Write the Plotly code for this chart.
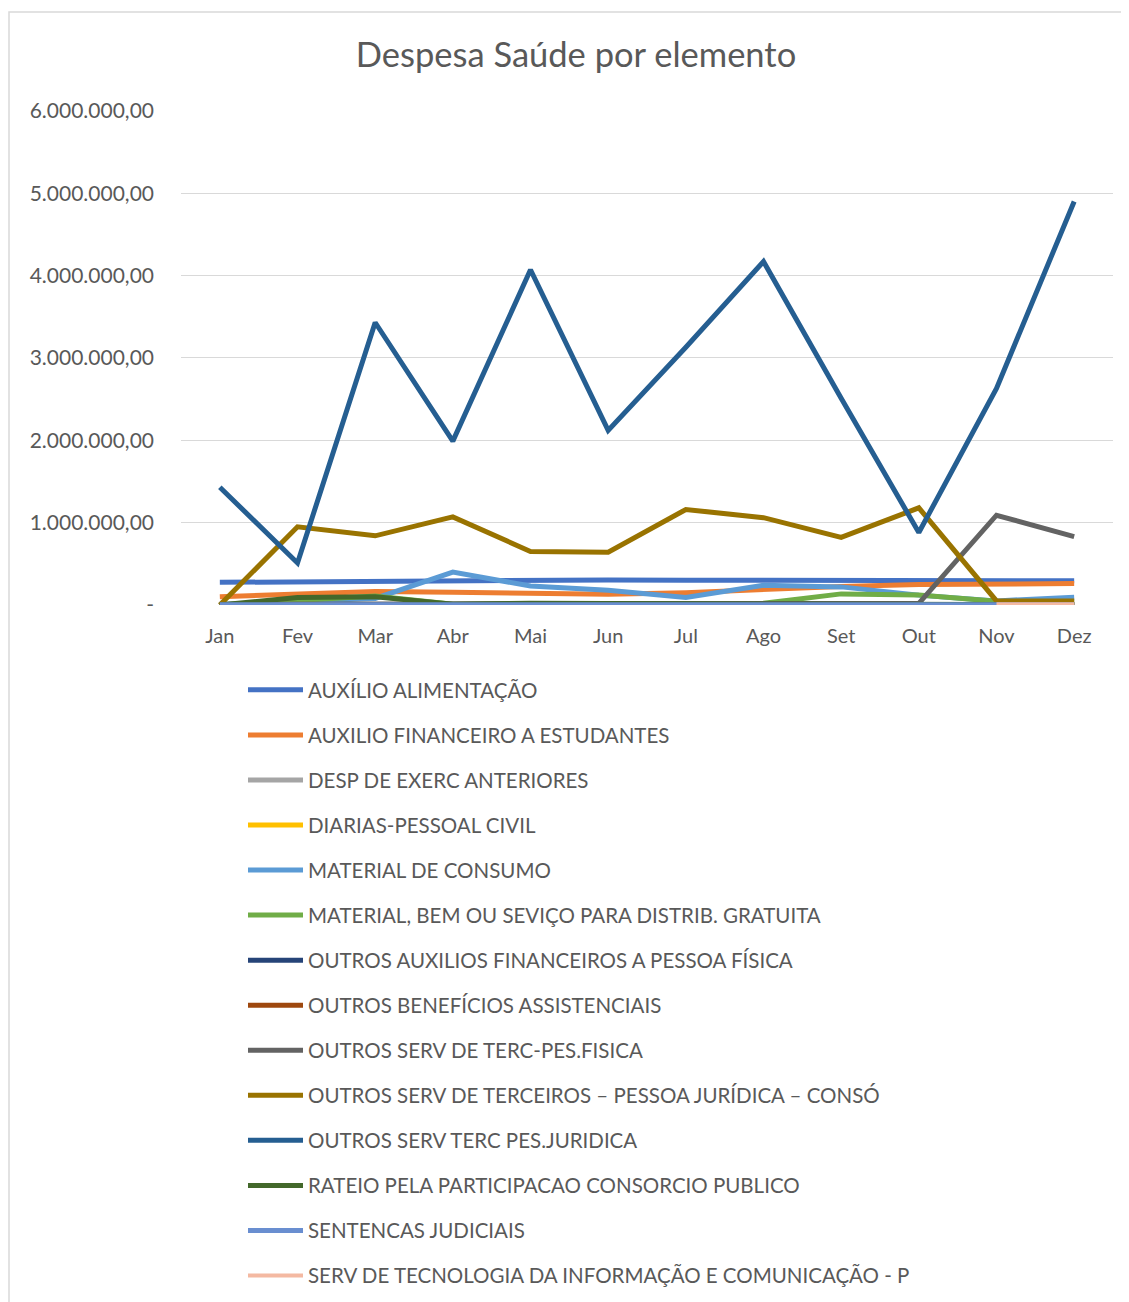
import plotly.graph_objects as go

months = ["Jan", "Fev", "Mar", "Abr", "Mai", "Jun", "Jul", "Ago", "Set", "Out", "Nov", "Dez"]

auxilio_alimentacao = [275000, 280000, 300000, 305000, 300000, 305000, 300000, 300000, 300000, 300000, 295000, 295000]
auxilio_estudantes = [100000, 125000, 165000, 155000, 145000, 130000, 150000, 190000, 225000, 250000, 255000, 260000]
desp_exerc_anteriores = [0, 0, 0, 0, 0, 0, 0, 0, 0, 0, 0, 0]
diarias = [0, 0, 0, 0, 0, 0, 0, 0, 0, 0, 0, 0]
material_consumo = [5000, 40000, 80000, 400000, 230000, 180000, 90000, 240000, 220000, 120000, 50000, 95000]
material_distrib = [0, 50000, 110000, 10000, 10000, 15000, 10000, 20000, 135000, 120000, 45000, 35000]
outros_aux_pf = [0, 0, 0, 0, 0, 0, 0, 0, 0, 0, 0, 0]
outros_beneficios = [0, 0, 0, 0, 0, 0, 0, 0, 0, 5000, 5000, 5000]
outros_serv_pf = [10000, 10000, 10000, 10000, 15000, 15000, 15000, 15000, 15000, 20000, 1090000, 830000]
outros_serv_consorcio = [0, 950000, 840000, 1070000, 650000, 640000, 1160000, 1060000, 820000, 1180000, 50000, 50000]
outros_serv_pj = [1430000, 510000, 3430000, 1990000, 4070000, 2120000, 3130000, 4170000, 2510000, 880000, 2630000, 4900000]
rateio_consorcio = [0, 90000, 100000, 10000, 20000, 15000, 10000, 5000, 5000, 5000, 5000, 5000]
sentencas = [2000, 2000, 2000, 2000, 2000, 2000, 2000, 2000, 2000, 2000, 2000, 2000]
serv_tecnologia = [None, None, None, None, None, None, None, None, None, None, 10000, 10000]

series_names = [
    "AUXÍLIO ALIMENTAÇÃO",
    "AUXILIO FINANCEIRO A ESTUDANTES",
    "DESP DE EXERC ANTERIORES",
    "DIARIAS-PESSOAL CIVIL",
    "MATERIAL DE CONSUMO",
    "MATERIAL, BEM OU SEVIÇO PARA DISTRIB. GRATUITA",
    "OUTROS AUXILIOS FINANCEIROS A PESSOA FÍSICA",
    "OUTROS BENEFÍCIOS ASSISTENCIAIS",
    "OUTROS SERV DE TERC-PES.FISICA",
    "OUTROS SERV DE TERCEIROS – PESSOA JURÍDICA – CONSÓ",
    "OUTROS SERV TERC PES.JURIDICA",
    "RATEIO PELA PARTICIPACAO CONSORCIO PUBLICO",
    "SENTENCAS JUDICIAIS",
    "SERV DE TECNOLOGIA DA INFORMAÇÃO E COMUNICAÇÃO - P",
]
series_values = [
    auxilio_alimentacao, auxilio_estudantes, desp_exerc_anteriores, diarias,
    material_consumo, material_distrib, outros_aux_pf, outros_beneficios,
    outros_serv_pf, outros_serv_consorcio, outros_serv_pj, rateio_consorcio,
    sentencas, serv_tecnologia,
]
colors = [
    "#4472C4", "#ED7D31", "#A5A5A5", "#FFC000", "#5B9BD5", "#70AD47",
    "#264478", "#9E480E", "#636363", "#997300", "#255E91", "#43682B",
    "#698ED0", "#F4B9A2",
]

y_tickvals = [0, 1e6, 2e6, 3e6, 4e6, 5e6, 6e6]
y_ticktext = ["-", "1.000.000,00", "2.000.000,00", "3.000.000,00", "4.000.000,00", "5.000.000,00", "6.000.000,00"]

FONT = "Lato, 'Open Sans', sans-serif"
GREY = "#595959"

W, H = 1121, 1294  # page has an 8px body margin

fig = go.Figure()
for i, (name, vals, col) in enumerate(zip(series_names, series_values, colors)):
    fig.add_trace(go.Scatter(
        x=months, y=vals, name=name, mode="lines",
        line=dict(color=col, width=5 if i < 13 else 4),
        legendgroup=f"g{i}",
    ))

pl, pr, pt, pb = 173, 1105, 102, 597  # plot area in figure pixels
fig.update_layout(
    width=W, height=H,
    margin=dict(l=pl, r=W - pr, t=pt, b=H - pb, autoexpand=False),
    paper_bgcolor="white", plot_bgcolor="white",
    font=dict(family=FONT, color=GREY),
    title=dict(text="Despesa Saúde por elemento", x=568 / W, xanchor="center",
               xref="container", y=1 - 47 / H, yref="container", yanchor="middle",
               font=dict(size=34.5, color=GREY, family=FONT)),
    showlegend=True,
    legend=dict(
        orientation="v", xref="container", yref="container",
        x=235 / W, xanchor="left", y=1 - 662 / H, yanchor="top",
        font=dict(size=20.5, color=GREY, family=FONT),
        tracegroupgap=15.4, itemwidth=55, bgcolor="rgba(0,0,0,0)",
        traceorder="grouped",
    ),
    xaxis=dict(
        type="category", showgrid=False, showline=False, zeroline=False,
        tickfont=dict(size=20, color=GREY, family=FONT), ticks="",
        ticklabelstandoff=17, range=[-0.5, 11.5], tickangle=0,
    ),
    yaxis=dict(
        range=[0, 6.01e6], tickvals=y_tickvals, ticktext=y_ticktext,
        showgrid=True, gridcolor="#D9D9D9", gridwidth=1.3, zeroline=False,
        showline=False, tickfont=dict(size=21, color=GREY, family=FONT),
        ticks="", ticklabelstandoff=26,
    ),
    shapes=[dict(type="rect", xref="paper", yref="paper",
                 x0=(1 - pl) / (pr - pl), x1=(W + 10 - pl) / (pr - pl),
                 y0=(pb - H - 10) / (pb - pt), y1=(pb - 4) / (pb - pt),
                 line=dict(color="#D9D9D9", width=1.5), fillcolor="rgba(0,0,0,0)",
                 layer="below")],
)

fig.write_html("out.html")
